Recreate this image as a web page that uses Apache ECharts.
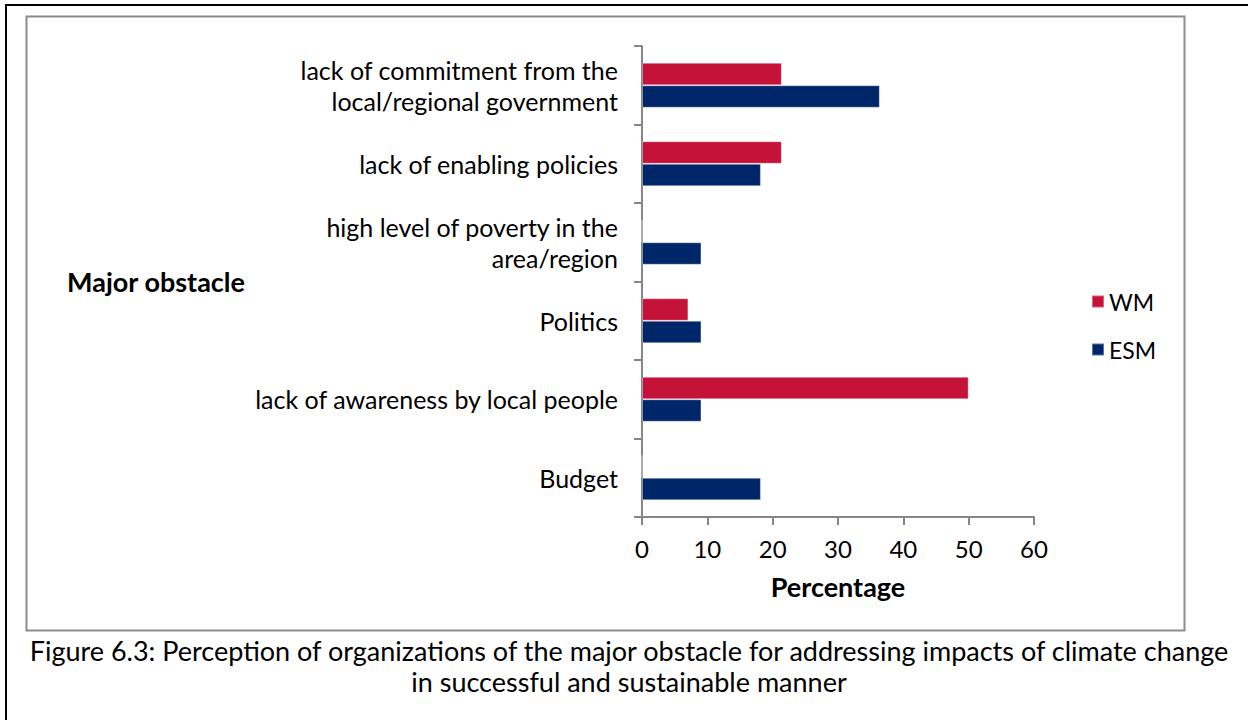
<!DOCTYPE html>
<html>
<head>
<meta charset="utf-8">
<script src="https://cdn.jsdelivr.net/npm/echarts@6/dist/echarts.min.js"></script>
<style>
html,body{margin:0;padding:0;background:#fff;}
#chart{width:1248px;height:720px;}
</style>
</head>
<body>
<div id="chart"></div>
<script>
const categories = [
  "lack of commitment from the\nlocal/regional government",
  "lack of enabling policies",
  "high level of poverty in the\narea/region",
  "Politics",
  "lack of awareness by local people",
  "Budget"
];
const wmValues = [21.4, 21.4, 0, 7.1, 50.0, 0];
const esmValues = [36.4, 18.2, 9.1, 9.1, 9.1, 18.2];
const xTicks = [0, 10, 20, 30, 40, 50, 60];
const seriesNames = ["WM", "ESM"];
const captionLines = [
  "Figure 6.3: Perception of organizations of the major obstacle for addressing impacts of climate change",
  "in successful and sustainable manner"
];

const FONT = "Lato, 'Open Sans', sans-serif";
const chart = echarts.init(document.getElementById('chart'), null, {renderer: 'svg'});
chart.setOption({
  animation: false,
  backgroundColor: '#ffffff',
  textStyle: {fontFamily: FONT, color: '#000'},
  graphic: [
    {type: 'rect', shape: {x: 6, y: 5, width: 1260, height: 740}, style: {fill: 'none', stroke: '#000', lineWidth: 2}, silent: true},
    {type: 'rect', shape: {x: 26.5, y: 16.5, width: 1158, height: 614}, style: {fill: 'none', stroke: '#8c8c8c', lineWidth: 2}, silent: true},
    {type: 'text', x: 629, y: 650, style: {text: captionLines[0], fontFamily: FONT, fontSize: 27, fill: '#000', align: 'center', verticalAlign: 'middle'}},
    {type: 'text', x: 629, y: 681, style: {text: captionLines[1], fontFamily: FONT, fontSize: 27, fill: '#000', align: 'center', verticalAlign: 'middle'}}
  ],
  grid: {left: 642, right: 214, top: 46, bottom: 203, containLabel: false},
  legend: {
    orient: 'vertical', left: 1086, top: 285,
    itemWidth: 12, itemHeight: 12, itemGap: 25, icon: 'rect',
    textStyle: {fontFamily: FONT, fontSize: 23, color: '#000'},
    data: seriesNames
  },
  xAxis: {
    type: 'value', min: xTicks[0], max: xTicks[xTicks.length - 1], interval: 10,
    name: 'Percentage', nameLocation: 'middle', nameGap: 56,
    nameTextStyle: {fontFamily: FONT, fontSize: 27, fontWeight: 'bold', color: '#000'},
    axisLine: {show: true, lineStyle: {color: '#868686', width: 2}},
    axisTick: {show: true, length: 8, lineStyle: {color: '#868686', width: 2}},
    splitLine: {show: false},
    axisLabel: {fontFamily: FONT, fontSize: 24, color: '#000', margin: 19}
  },
  yAxis: {
    type: 'category', data: categories, inverse: true,
    name: 'Major obstacle', nameLocation: 'middle', nameRotate: 0, nameGap: 397,
    nameTextStyle: {fontFamily: FONT, fontSize: 27, fontWeight: 'bold', color: '#000', align: 'right'},
    axisLine: {show: true, lineStyle: {color: '#868686', width: 2}},
    axisTick: {show: true, length: 8, lineStyle: {color: '#868686', width: 2}},
    axisLabel: {fontFamily: FONT, fontSize: 25, color: '#000', margin: 24, lineHeight: 31, align: 'right'}
  },
  series: [
    {name: seriesNames[0], type: 'bar', data: wmValues, barGap: '0%', barCategoryGap: '42.7%',
     itemStyle: {color: '#C41239', borderColor: 'rgba(255,255,255,0.35)', borderWidth: 1}},
    {name: seriesNames[1], type: 'bar', data: esmValues, barGap: '0%', barCategoryGap: '42.7%',
     itemStyle: {color: '#00266A', borderColor: 'rgba(255,255,255,0.35)', borderWidth: 1}}
  ]
});
</script>
</body>
</html>
